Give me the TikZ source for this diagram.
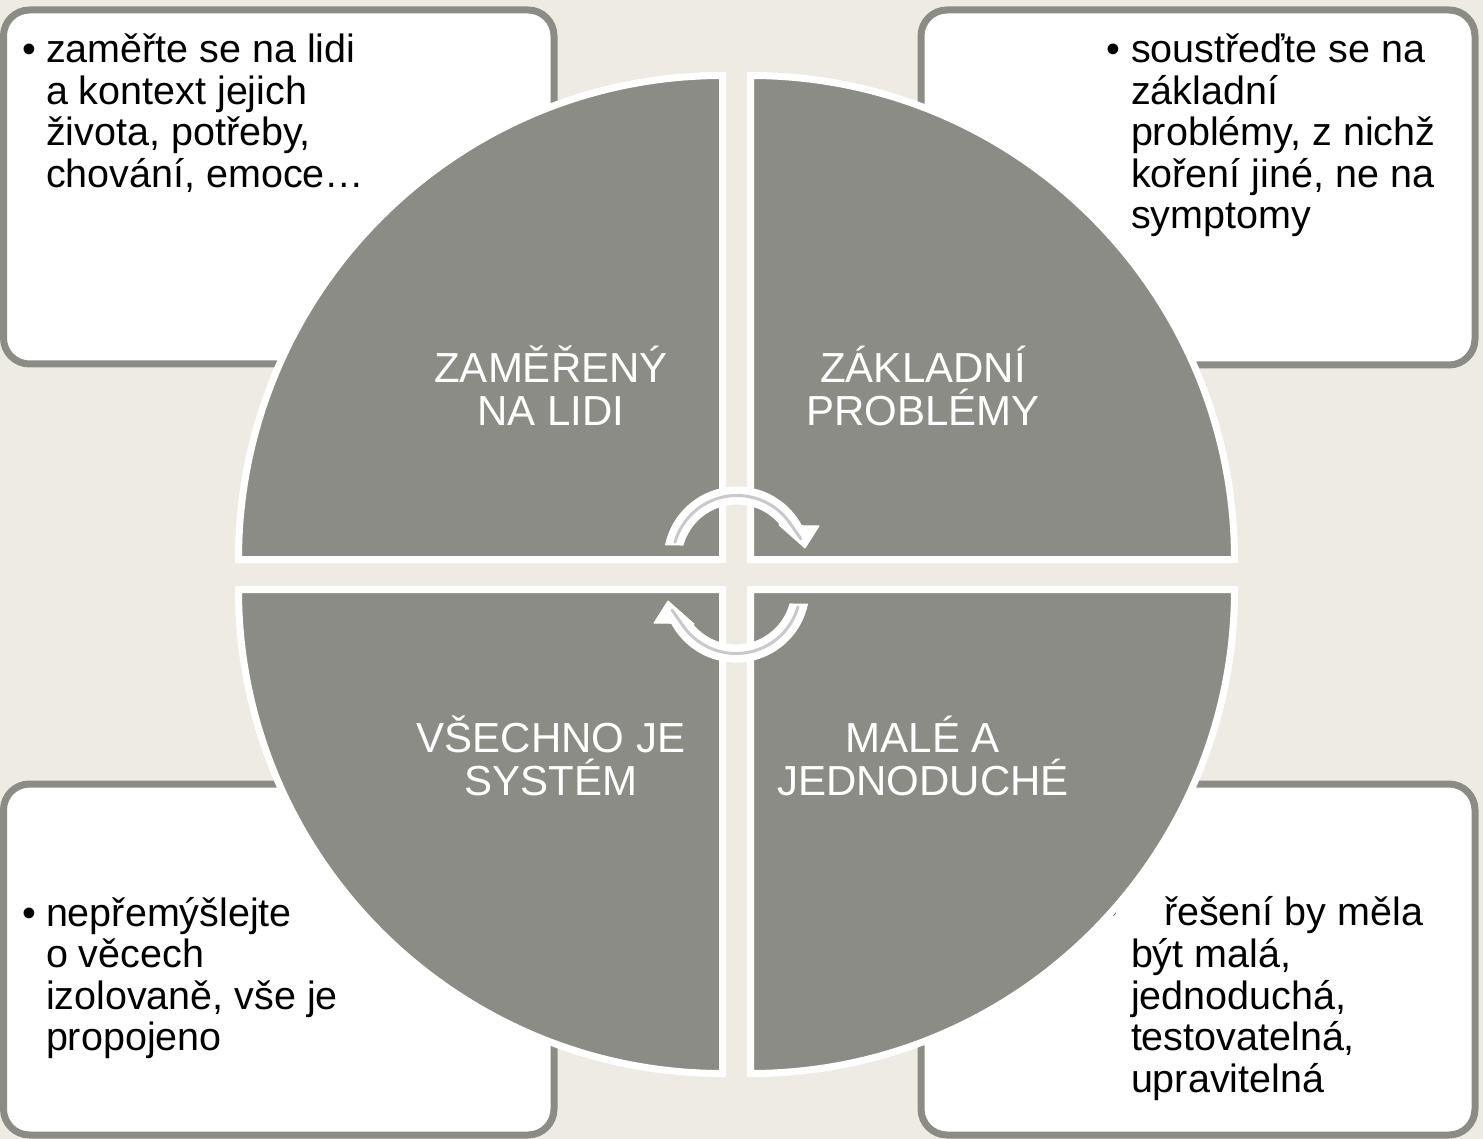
\documentclass[tikz,border=0pt]{standalone}
\usepackage{fontspec}
\setmainfont{Liberation Sans}
\definecolor{bgc}{HTML}{EEEBE4}
\definecolor{secgray}{HTML}{8C8C86}
\definecolor{stripe}{HTML}{C9C9C9}
\tikzset{
  boxstyle/.style={draw=secgray, line width=7pt, fill=white, rounded corners=26pt},
  sector/.style={fill=secgray, draw=white, line width=7pt, line join=miter},
  bodytext/.style={inner sep=0pt, outer sep=0pt, align=left, text=black, font=\fontsize{39.5}{41.5}\selectfont},
  bullettext/.style={inner sep=0pt, outer sep=0pt, text=black, font=\fontsize{39.5}{41.5}\selectfont},
  seclabel/.style={inner sep=0pt, outer sep=0pt, align=center, text=white, font=\fontsize{42}{43}\selectfont},
  arrowbody/.style={fill=white, draw=white, line width=1pt, line join=round},
  arrowstripe/.style={draw=stripe, line width=3pt, line cap=round}
}
\begin{document}
\begin{tikzpicture}[x=1pt, y=-1pt]
\useasboundingbox (0,0) rectangle (1483,1139);
\fill[bgc] (0,0) rectangle (1483,1139);

% boxes
\draw[boxstyle] (3.5,10) rectangle (554,364);
\draw[boxstyle] (921,10) rectangle (1475,365);
\draw[boxstyle] (3.5,784) rectangle (554,1135);
\draw[boxstyle] (921,784) rectangle (1475,1135);

% box texts (anchor base = baseline of the last line)
\node[bullettext, anchor=base west] (tlb) at (23,63) {•};
\node[bodytext, anchor=base west] (tlt) at (46,187.5) {zaměřte se na lidi\\a kontext jejich\\života, potřeby,\\chování, emoce…};

\node[bullettext, anchor=base west] (trb) at (1106,63) {•};
\node[bodytext, anchor=base west] (trt) at (1131,229) {soustřeďte se na\\základní\\problémy, z nichž\\koření jiné, ne na\\symptomy};

\node[bullettext, anchor=base west] (blb) at (23,926) {•};
\node[bodytext, anchor=base west] (blt) at (46,1050.5) {nepřemýšlejte\\o věcech\\izolovaně, vše je\\propojeno};

\node[bullettext, anchor=base west] (brb) at (1104.5,924) {•};
\node[bodytext, anchor=base west] (brt1) at (1164,925) {řešení by měla};
\node[bodytext, anchor=base west] (brt) at (1131,1092) {být malá,\\jednoduchá,\\testovatelná,\\upravitelná};

% sectors
\draw[sector] (722.5,559.5) -- ++(0,-484) arc[start angle=-90, end angle=-180, radius=484] -- cycle;
\draw[sector] (750.5,559.5) -- ++(0,-484) arc[start angle=-90, end angle=0, radius=484] -- cycle;
\draw[sector] (722.5,589.5) -- ++(0,484) arc[start angle=90, end angle=180, radius=484] -- cycle;
\draw[sector] (750.5,589.5) -- ++(0,484) arc[start angle=90, end angle=0, radius=484] -- cycle;

% sector labels (anchor base = baseline of the last line)
\node[seclabel, anchor=base] (l1) at (551,425) {ZAMĚŘENÝ\\NA LIDI};
\node[seclabel, anchor=base] (l2) at (923,425) {ZÁKLADNÍ\\PROBLÉMY};
\node[seclabel, anchor=base] (l3) at (551,795) {VŠECHNO JE\\SYSTÉM};
\node[seclabel, anchor=base] (l4) at (923,795) {MALÉ A\\JEDNODUCHÉ};

% circular arrows (centre of arc at 737,560)
\foreach \rot in {0,180}{
  \begin{scope}[rotate around={\rot:(736.5,574.5)}]
    \filldraw[arrowbody] (665.59,544.82) arc[start angle=-168, end angle=-28, radius=73]
      -- (819,526) -- (805,548) -- (779,525)
      -- (779.90,524.00) arc[start angle=-40, end angle=-164.5, radius=56] -- cycle;
    \draw[arrowstripe] (675.00,542.22) arc[start angle=-164, end angle=-34, radius=64.5] -- (801,539);
  \end{scope}
}
\end{tikzpicture}
\end{document}
